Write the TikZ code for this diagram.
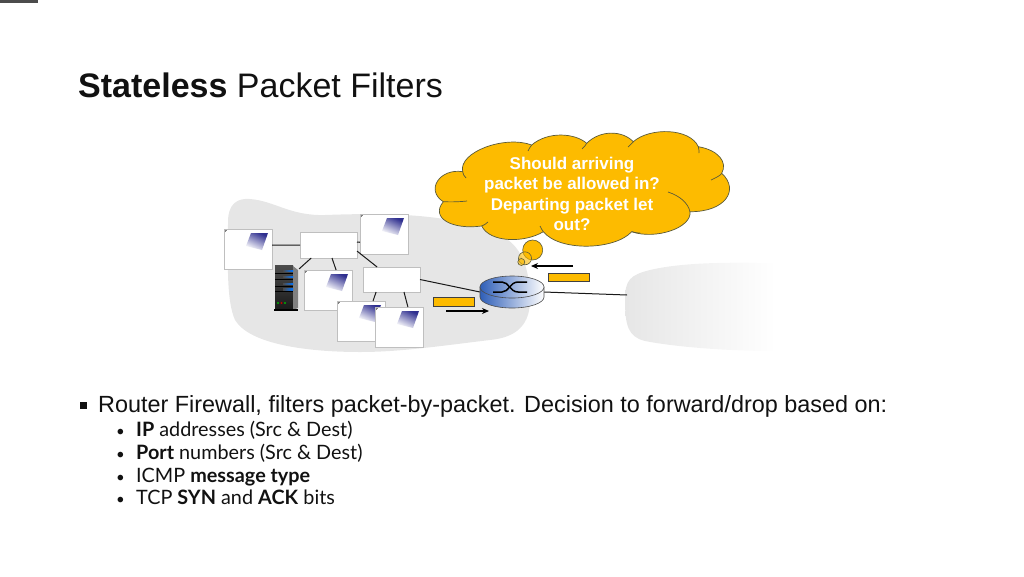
\documentclass[tikz,border=0pt]{standalone}
\usepackage{fontspec}
\setmainfont{Liberation Sans}
\newfontfamily\gillfont{Lato}
\definecolor{amber}{HTML}{FDBB00}
\definecolor{amberedge}{HTML}{5A5A3A}
\definecolor{blobgray}{HTML}{E6E6E6}
\definecolor{hostblue}{HTML}{2F2F8F}
\definecolor{routerblue}{HTML}{2F5FB8}
\definecolor{txt}{HTML}{111111}
\usetikzlibrary{arrows.meta}
\tikzset{
  hostbox/.style={draw=black!25,fill=white,line width=.6pt,minimum width=48pt,minimum height=40pt,inner sep=0pt,outer sep=0pt},
  switchbox/.style={draw=black!25,fill=white,line width=.6pt,minimum width=57pt,inner sep=0pt,outer sep=0pt},
  link/.style={black!90,line width=1pt},
  packet/.style={draw=black!75,fill=amber,line width=.6pt,minimum width=41pt,minimum height=8.5pt,inner sep=0pt},
  flow/.style={black,line width=1.1pt,-{Stealth[length=7pt,width=6pt]}},
  cloudline/.style={draw=amberedge,line width=.7pt},
  bubble/.style={draw=amberedge,line width=.6pt,fill=amber,circle,inner sep=0pt},
  bubbletext/.style={text=white,font=\bfseries\fontsize{17}{20}\selectfont,inner sep=0pt},
  subitem/.style={anchor=base west,inner sep=0pt,text=txt,font=\gillfont\fontsize{19.8}{22}\selectfont},
}
\newcommand{\hostdecor}[1]{%
  \begin{scope}[shift={(#1.north west)}]
    \shade[bottom color=white,middle color=hostblue!45,top color=hostblue,shading angle=-25] (27,4) -- (44,4) -- (38,21) -- (22,17) -- cycle;
    \draw[black!50,line width=.5pt] (1,3) -- (1,1) -- (3,1);
  \end{scope}}
\begin{document}
\begin{tikzpicture}[x=1pt,y=-1pt]
\useasboundingbox (0,0) rectangle (1024,576);
% corner strip
\fill[black!70] (0,0) rectangle (38,2.5);
% title
\node[anchor=base west,inner sep=0pt,text=txt,font=\fontsize{34}{38}\selectfont] (title) at (78,97) {\textbf{Stateless} Packet Filters};
% gray blobs
\fill[blobgray] (228,222) .. controls (228,203) and (238,198) .. (250,199)
  .. controls (275,201) and (290,216) .. (325,215)
  .. controls (380,213) and (460,212) .. (505,238)
  .. controls (522,248) and (530,270) .. (530,300)
  .. controls (530,330) and (510,338) .. (490,340)
  .. controls (440,346) and (400,352) .. (360,352)
  .. controls (310,352) and (250,345) .. (235,320)
  .. controls (226,300) and (228,260) .. (228,222) -- cycle;
\shade[left color=blobgray,middle color=blobgray,right color=white] (625,300)
  .. controls (625,280) and (630,275) .. (650,270)
  .. controls (680,263) and (720,262) .. (775,263)
  -- (775,351)
  .. controls (720,351) and (670,346) .. (645,341)
  .. controls (628,337) and (625,325) .. (625,300) -- cycle;
% connectors' nodes
\node[hostbox] (h1) at (248,249) {}; \hostdecor{h1}
\node[hostbox] (h2) at (384,234) {}; \hostdecor{h2}
\node[switchbox,minimum height=26pt] (swA) at (328.5,245) {};
\node[switchbox,minimum height=25pt] (swB) at (391.5,279.5) {};
\node[hostbox] (h3) at (328,290) {}; \hostdecor{h3}
\node[hostbox] (h4) at (361,321) {}; \hostdecor{h4}
\node[hostbox] (h5) at (399,327) {}; \hostdecor{h5}
\node[minimum width=25pt,minimum height=47pt,inner sep=0pt,outer sep=0pt] (srv) at (286.5,287.5) {};
\node[minimum width=64pt,minimum height=33pt,inner sep=0pt,outer sep=0pt] (rt) at (512,292) {};
\coordinate (farnet) at (627,295);
% server
\shade[top color=black!70,bottom color=black!90] (275,265) rectangle (293,310);
\fill[black!50] (293,266) -- (298,270) -- (298,308) -- (293,310) -- cycle;
\fill[black] (274,309) rectangle (298,311);
\foreach \yy in {271,277,284,289.5}{
  \fill[black] (275,\yy+1.6) rectangle (293,\yy+2.6);
  \shade[left color=black!70,right color=blue!55!cyan] (283,\yy-.9) rectangle (293,\yy+.9);
}
\fill[green!70!black] (278,303) circle (1.2);
\fill[red!75!black] (281.5,303) circle (1.2);
\fill[green!70!black] (285,303) circle (1.2);
% links
\draw[link] (h1.9.5) -- (swA.west);
\draw[link] (swA.6) -- (h2.-161.6);
\draw[link] (swA.-12) -- (swB.139);
\draw[link] (swA.-143) -- (srv.56);
\draw[link] (swA.-75) -- (h3.68);
\draw[link] (swB.-141) -- (h4.59);
\draw[link] (swB.-45) -- (h5.66);
\draw[link] (swB.east) -- (rt.west);
\draw[link] (rt.east) -- (farnet);
% router
\shade[left color=routerblue,right color=white,draw=black!70,line width=.6pt] (480,287) -- (480,297) arc[start angle=180,end angle=0,x radius=32,y radius=11] -- (544,287) -- cycle;
\shade[left color=routerblue,right color=white,draw=black!70,line width=.6pt] (512,287) ellipse[x radius=32,y radius=11];
\draw[black,line width=1.5pt] (493,282) -- (502,282) .. controls (509,282) and (510,292) .. (518,292) -- (527,292);
\draw[black,line width=1.5pt] (493,292) -- (502,292) .. controls (509,292) and (510,282) .. (518,282) -- (527,282);
% packets
\node[packet] (pk1) at (568.5,277.5) {};
\node[packet] (pk2) at (454,302) {};
\coordinate (f1a) at (573,266); \coordinate (f1b) at (531,266);
\coordinate (f2a) at (446,311); \coordinate (f2b) at (489,311);
\draw[flow] (f1a) -- (f1b);
\draw[flow] (f2a) -- (f2b);
% thought cloud
\node[bubble,minimum size=20pt] (b1) at (532.7,250) {};
\node[bubble,minimum size=13pt,fill opacity=.6] (b2) at (525,258.3) {};
\node[bubble,minimum size=7pt,fill opacity=.6] (b3) at (521.3,262) {};
\path[fill=amber,cloudline] (462.7,171.7)
  .. controls (458,152) and (505,135) .. (531.7,145)
  .. controls (548,131) and (575,133) .. (586.7,143.3)
  .. controls (600,130) and (622,130) .. (633.3,141.7)
  .. controls (650,127) and (690,128) .. (698.3,146.7)
  .. controls (718,150) and (728,162) .. (721.7,173.3)
  .. controls (740,190) and (725,212) .. (690,211.7)
  .. controls (692,228) and (655,240) .. (631.7,231.7)
  .. controls (615,250) and (560,252) .. (543.3,231.7)
  .. controls (525,243) and (490,243) .. (481.7,226)
  .. controls (452,230) and (430,218) .. (443.3,201.7)
  .. controls (425,190) and (440,168) .. (462.7,171.7) -- cycle;
\draw[cloudline] (462.7,171.7) .. controls (463,174) and (464,176) .. (466,178);
\draw[cloudline] (531.7,145) .. controls (530,147) and (529,149) .. (528,151);
\draw[cloudline] (586.7,143.3) .. controls (586,145) and (584,147) .. (582,149);
\draw[cloudline] (633.3,141.7) .. controls (632,143) and (630,145) .. (628,147);
\draw[cloudline] (698.3,146.7) .. controls (699,149) and (699,151) .. (699,153);
\draw[cloudline] (721.7,173.3) .. controls (720,176) and (715,178) .. (711,180);
\draw[cloudline] (690,211.7) .. controls (688,203) and (680,196) .. (668,192);
\draw[cloudline] (631.7,231.7) .. controls (634,232) and (636,233) .. (640,233);
\draw[cloudline] (543.3,231.7) .. controls (542,230) and (541,228) .. (540,226);
\draw[cloudline] (481.7,226) .. controls (484,225) and (486,224) .. (488,222);
\draw[cloudline] (443.3,201.7) .. controls (450,202) and (458,202) .. (467,201);
\node[bubbletext,anchor=base] (t1) at (572,169) {Should arriving};
\node[bubbletext,anchor=base] (t2) at (572,189.5) {packet be allowed in?};
\node[bubbletext,anchor=base] (t3) at (572,210) {Departing packet let};
\node[bubbletext,anchor=base] (t4) at (572,230.5) {out?};
% bullet list
\node[fill=txt,minimum size=7pt,inner sep=0pt] (sq) at (83.5,405.5) {};
\node[anchor=base west,inner sep=0pt,text=txt,font=\fontsize{23.4}{26}\selectfont] (main) at (98,412.5) {Router Firewall, filters packet-by-packet. Decision to forward/drop based on:};
\foreach \yy/\name/\body in {436/i1/{\textbf{IP} addresses (Src \& Dest)},459/i2/{\textbf{Port} numbers (Src \& Dest)},482/i3/{ICMP \textbf{message type}},504/i4/{TCP \textbf{SYN} and \textbf{ACK} bits}}{
  \node[subitem,font=\gillfont\fontsize{15}{22}\selectfont] (\name b) at (116,\yy) {•};
  \node[subitem] (\name) at (136,\yy) {\body};
}
\end{tikzpicture}
\end{document}
